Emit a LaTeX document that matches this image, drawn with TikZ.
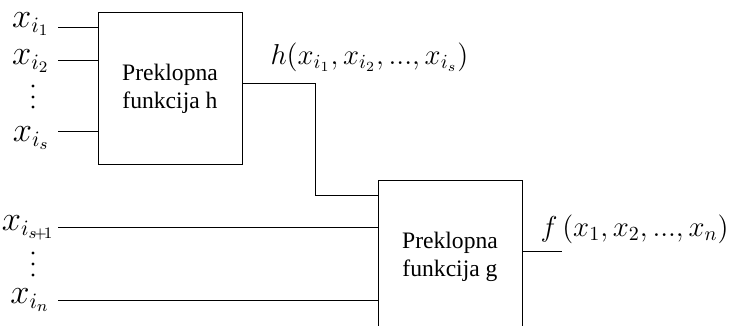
\documentclass[tikz,border=0pt]{standalone}
\usepackage{fontspec}
\setmainfont{Liberation Serif}
\usetikzlibrary{positioning}

\begin{document}
\begin{tikzpicture}[x=0.5pt,y=-0.5pt,line width=0.5pt,
  blok/.style={draw,minimum width=72pt,minimum height=76pt,align=center,font=\fontsize{11.8}{14}\selectfont},
  ulaz/.style={inner sep=1pt,font=\fontsize{16}{18}\selectfont},
  izlaz/.style={inner sep=0pt,font=\fontsize{14.5}{18}\selectfont}]
\useasboundingbox (0,0) rectangle (729,326);
% the two switching blocks
\node[blok] (h) at (170,88.5) {Preklopna\\funkcija h};
\node[blok] (g) at (450,257) {Preklopna\\funkcija g};
% line starts of the inputs
\coordinate (a1) at (58,28);
\coordinate (a2) at (58,61);
\coordinate (as) at (58,132);
\coordinate (b1) at (58,228);
\coordinate (bn) at (58,300);
\node[ulaz,left=3pt of a1,yshift=2pt] (xa1) {$x_{i_1}$};
\node[ulaz,left=3pt of a2,yshift=0pt] (xa2) {$x_{i_2}$};
\node[ulaz,left=3pt of as,yshift=-3pt] (xas) {$x_{i_s}$};
\node[ulaz,left=0.5pt of b1,yshift=0pt] (xb1) {$x_{i_{s\!+\!1}}$};
\node[ulaz,left=3pt of bn,yshift=0pt] (xbn) {$x_{i_n}$};
% vertical dots between the inputs
\foreach \y in {86,97,107,253,264,275}
  \fill (33,\y) circle (1.7);
% outputs
\node[izlaz,anchor=west] (hout) at (270,57) {$h(x_{i_1},x_{i_2},...,x_{i_s})$};
\node[izlaz,anchor=west] (fout) at (540,229) {$f\,(x_1,x_2,...,x_n)$};
\coordinate (k) at (315,84);
\coordinate (fend) at (562,251);
% connections
\draw (a1) -- (a1 -| h.west);
\draw (a2) -- (a2 -| h.west);
\draw (as) -- (as -| h.west);
\draw (h.east |- k) -- (k) |- (g.west |- 0,196);
\draw (b1) -- (b1 -| g.west);
\draw (bn) -- (bn -| g.west);
\draw (g.east |- fend) -- (fend);
\end{tikzpicture}
\end{document}
